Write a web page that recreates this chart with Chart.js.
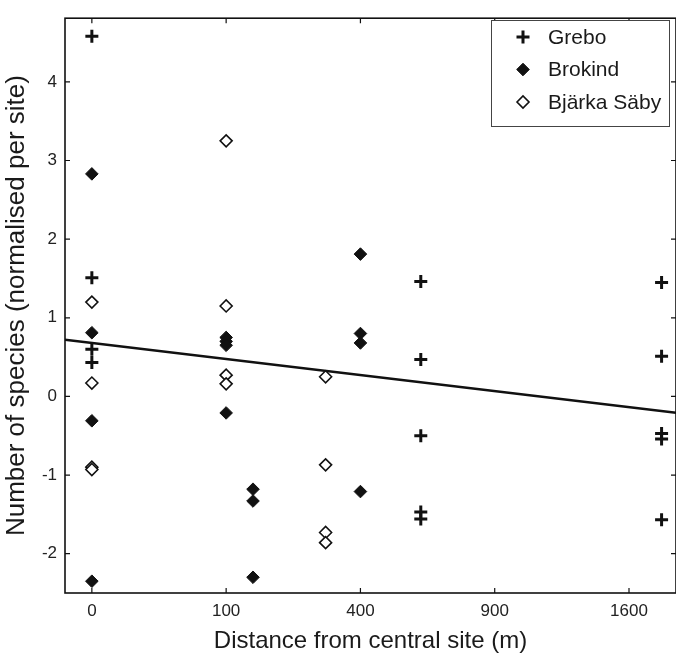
<!DOCTYPE html>
<html>
<head>
<meta charset="utf-8">
<script src="https://cdn.jsdelivr.net/npm/chart.js@4/dist/chart.umd.min.js"></script>
<style>
  html, body { margin: 0; padding: 0; background: #fff; }
  canvas { display: block; }
</style>
</head>
<body>
<canvas id="myChart" width="676" height="656" style="width:676px;height:656px"></canvas>
<script>
// distances in metres, values = number of species (normalised per site)
const greboDist = [0, 0, 0, 0, 600, 600, 600, 600, 600, 1800, 1800, 1800, 1800, 1800];
const greboVal = [4.58, 1.51, 0.6, 0.43, 1.46, 0.47, -0.5, -1.47, -1.56, 1.45, 0.51, -0.47, -0.54, -1.57];

const brokindDist = [0, 0, 0, 0, 100, 100, 100, 100, 144, 144, 144, 400, 400, 400, 400];
const brokindVal = [2.83, 0.81, -0.31, -2.35, 0.75, 0.7, 0.65, -0.21, -1.18, -1.33, -2.3, 1.81, 0.8, 0.68, -1.21];

const bjarkaDist = [0, 0, 0, 0, 100, 100, 100, 100, 303, 303, 303, 303];
const bjarkaVal = [1.2, 0.17, -0.9, -0.93, 3.25, 1.15, 0.27, 0.16, 0.25, -0.87, -1.73, -1.86];

// regression line (y against sqrt of distance)
const fitIntercept = 0.68;
const fitSlope = -0.0204;

const xTickLabels = [0, 100, 400, 900, 1600];
const yTickValues = [-2, -1, 0, 1, 2, 3, 4];
const xMin = -2, xMax = 43.5; // sqrt(m) units
const yMin = -2.5, yMax = 4.81;

function toPoints(dist, val) {
  return dist.map((d, i) => ({ x: Math.sqrt(d), y: val[i] }));
}

const ink = "#111";
const fontFam = "'Liberation Sans', Arial, Helvetica, sans-serif";

const frameAndLegend = {
  id: "frameAndLegend",
  afterDatasetsDraw(chart) {
    const ctx = chart.ctx;
    const a = chart.chartArea;
    const xs = chart.scales.x;
    const ys = chart.scales.y;
    ctx.save();
    ctx.strokeStyle = ink;
    ctx.lineWidth = 1.6;
    ctx.strokeRect(a.left, a.top, a.right - a.left, a.bottom - a.top);
    ctx.lineWidth = 1.2;
    ctx.beginPath();
    xs.ticks.forEach(t => {
      const px = xs.getPixelForValue(t.value);
      ctx.moveTo(px, a.bottom); ctx.lineTo(px, a.bottom - 5);
      ctx.moveTo(px, a.top); ctx.lineTo(px, a.top + 5);
    });
    ys.ticks.forEach(t => {
      const py = ys.getPixelForValue(t.value);
      ctx.moveTo(a.left, py); ctx.lineTo(a.left + 5, py);
      ctx.moveTo(a.right, py); ctx.lineTo(a.right - 5, py);
    });
    ctx.stroke();

    // legend box
    const bx = 491.5, by = 20.5, bw = 178, bh = 106;
    ctx.fillStyle = "#fff";
    ctx.fillRect(bx, by, bw, bh);
    ctx.strokeStyle = "#444";
    ctx.lineWidth = 1;
    ctx.strokeRect(bx, by, bw, bh);
    const rows = [37, 69.5, 102];
    chart.data.datasets.filter(ds => ds.type !== "line").forEach((ds, i) => {
      ctx.fillStyle = ds.backgroundColor;
      ctx.strokeStyle = ds.borderColor;
      ctx.lineWidth = ds.borderWidth;
      Chart.helpers.drawPoint(ctx, {
        pointStyle: ds.pointStyle, radius: ds.pointRadius, rotation: 0, borderWidth: ds.borderWidth
      }, 523, rows[i]);
      ctx.fillStyle = "#1a1a1a";
      ctx.font = "21px " + fontFam;
      ctx.textBaseline = "middle";
      ctx.textAlign = "left";
      ctx.fillText(ds.label, 548, rows[i] + 1);
    });
    ctx.restore();
  }
};

document.addEventListener("DOMContentLoaded", function () {
  const ctx = document.getElementById("myChart").getContext("2d");
  Chart.defaults.font.family = fontFam;
  Chart.defaults.color = "#222";

  new Chart(ctx, {
    type: "scatter",
    data: {
      datasets: [
        {
          type: "line",
          label: "fit",
          data: [
            { x: xMin, y: fitIntercept + fitSlope * xMin },
            { x: xMax, y: fitIntercept + fitSlope * xMax },
          ],
          borderColor: ink,
          borderWidth: 2.6,
          pointRadius: 0,
          fill: false,
          order: 4,
        },
        {
          label: "Grebo",
          data: toPoints(greboDist, greboVal),
          pointStyle: "cross",
          pointRadius: 6.5,
          borderWidth: 3,
          borderColor: ink,
          backgroundColor: ink,
          order: 1,
        },
        {
          label: "Brokind",
          data: toPoints(brokindDist, brokindVal),
          pointStyle: "rectRot",
          pointRadius: 6.3,
          borderWidth: 1,
          borderColor: ink,
          backgroundColor: ink,
          order: 2,
        },
        {
          label: "Bjärka Säby",
          data: toPoints(bjarkaDist, bjarkaVal),
          pointStyle: "rectRot",
          pointRadius: 6,
          borderWidth: 1.6,
          borderColor: ink,
          backgroundColor: "#fff",
          order: 3,
        },
      ],
    },
    options: {
      responsive: false,
      animation: false,
      layout: { autoPadding: false, padding: { top: 7, right: 0, left: 0, bottom: 0 } },
      plugins: {
        legend: { display: false },
        tooltip: { enabled: false },
      },
      scales: {
        x: {
          type: "linear",
          min: xMin,
          max: xMax,
          grid: { display: false, drawTicks: false },
          border: { display: false },
          afterBuildTicks: s => { s.ticks = xTickLabels.map(v => ({ value: Math.sqrt(v) })); },
          afterFit: s => { s.height = 63; },
          ticks: {
            font: { size: 17 },
            padding: 8,
            maxRotation: 0,
            callback: v => String(Math.round(v * v)),
          },
          title: {
            display: true,
            text: "Distance from central site (m)",
            font: { size: 24 },
            color: "#1a1a1a",
            padding: { top: 0, bottom: 0 },
          },
        },
        y: {
          min: yMin,
          max: yMax,
          grid: { display: false, drawTicks: false },
          border: { display: false },
          afterBuildTicks: s => { s.ticks = yTickValues.map(v => ({ value: v })); },
          afterFit: s => { s.width = 65; },
          ticks: {
            font: { size: 17 },
            padding: 8,
          },
          title: {
            display: true,
            text: "Number of species (normalised per site)",
            font: { size: 26 },
            color: "#1a1a1a",
            padding: { top: 1, bottom: 0 },
          },
        },
      },
    },
    plugins: [frameAndLegend],
  });
});
</script>
</body>
</html>
